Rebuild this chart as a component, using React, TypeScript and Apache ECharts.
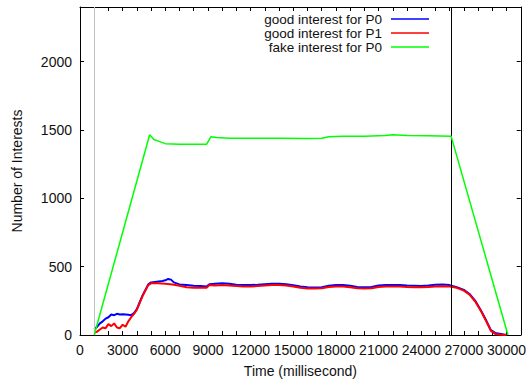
import React, { useEffect, useRef } from "react";
import * as echarts from "echarts";

// ---- data ----
const blueTimes = [1000, 1200, 1400, 1600, 1800, 2000, 2200, 2400, 2600, 2800, 3000, 3200, 3400, 3600, 3800, 4000, 4200, 4400, 4600, 4800, 5000, 5400, 5800, 6000, 6200, 6400, 6600, 7000, 7500, 8000, 8500, 8900, 9100, 9500, 10000, 10500, 11000, 11500, 12000, 12500, 13000, 13500, 14000, 14500, 15000, 15500, 16000, 16500, 17000, 17500, 18000, 18500, 19000, 19500, 20000, 20500, 21000, 21500, 22000, 22500, 23000, 23500, 24000, 24500, 25000, 25500, 26000, 26500, 27000, 27400, 27800, 28200, 28600, 28900, 29200, 29600, 30000];
const blueValues = [40, 60, 85, 100, 120, 130, 150, 145, 155, 150, 152, 150, 148, 145, 160, 190, 240, 290, 330, 370, 385, 390, 395, 400, 410, 405, 385, 370, 365, 360, 358, 355, 372, 375, 378, 375, 368, 365, 365, 368, 372, 375, 375, 372, 365, 355, 350, 348, 350, 360, 365, 365, 360, 352, 350, 352, 362, 365, 365, 365, 362, 360, 358, 362, 368, 370, 365, 350, 330, 300, 250, 180, 100, 35, 15, 8, 0];

const redTimes = [1000, 1200, 1400, 1600, 1800, 2000, 2200, 2400, 2600, 2800, 3000, 3200, 3400, 3600, 3800, 4000, 4200, 4400, 4600, 4800, 5000, 5500, 6000, 6500, 7000, 7500, 8000, 8500, 8900, 9100, 9500, 10000, 10500, 11000, 11500, 12000, 12500, 13000, 13500, 14000, 14500, 15000, 15500, 16000, 16500, 17000, 17500, 18000, 18500, 19000, 19500, 20000, 20500, 21000, 21500, 22000, 22500, 23000, 23500, 24000, 24500, 25000, 25500, 26000, 26500, 27000, 27400, 27800, 28200, 28600, 28900, 29200, 29600, 30000];
const redValues = [15, 25, 40, 55, 50, 80, 65, 85, 55, 50, 75, 60, 100, 130, 155, 185, 235, 285, 325, 365, 378, 378, 375, 370, 360, 350, 345, 345, 345, 365, 362, 365, 363, 358, 355, 355, 358, 362, 365, 365, 362, 355, 345, 340, 340, 342, 352, 355, 355, 350, 342, 340, 342, 352, 355, 355, 355, 352, 350, 350, 352, 355, 357, 355, 345, 325, 295, 245, 175, 95, 30, 8, 2, 0];

const greenTimes = [1000, 4900, 5200, 5600, 6000, 7000, 8000, 8900, 9200, 9600, 10500, 12000, 14000, 16000, 17000, 17500, 18500, 20000, 21500, 22000, 23000, 24500, 26100, 30100];
const greenValues = [0, 1465, 1430, 1415, 1400, 1395, 1395, 1395, 1450, 1445, 1440, 1440, 1440, 1438, 1440, 1450, 1455, 1455, 1460, 1465, 1460, 1458, 1455, 0];

const seriesNames = ["good interest for P0", "good interest for P1", "fake interest for P0"];
const seriesColors = ["#0000ff", "#ff0000", "#00ff00"];
const markerTimes = [1000, 26100];
const markerColors = ["#c0c0c0", "#000000"];

const X_MIN = 0;
const X_MAX = 31000;
const X_STEP = 1000;
const X_LABEL_STEP = 3000;
const Y_MIN = 0;
const Y_MAX = 2400;
const Y_STEP = 500;

const zip = (xs: number[], ys: number[]) => xs.map((x, i) => [x, ys[i]]);

export default function App() {
  const ref = useRef<HTMLDivElement>(null);
  useEffect(() => {
    if (!ref.current) return;
    const chart = echarts.init(ref.current, null, { renderer: "svg" });
    const font = "Liberation Sans";
    const textColor = "#111";
    const axisCommon = {
      axisLine: { show: true, onZero: false, lineStyle: { color: "#000", width: 1 } },
      axisTick: { show: true, inside: true, length: 4, lineStyle: { color: "#000", width: 1 } },
      splitLine: { show: false },
    };
    const dataSets = [zip(blueTimes, blueValues), zip(redTimes, redValues), zip(greenTimes, greenValues)];
    chart.setOption({
      animation: false,
      textStyle: { fontFamily: font },
      grid: { left: 80, right: 6, top: 7, bottom: 48, containLabel: false },
      legend: {
        data: seriesNames,
        orient: "vertical",
        align: "right",
        right: 100,
        top: 12,
        padding: 0,
        itemGap: 0,
        icon: "rect",
        itemWidth: 38,
        itemHeight: 1.5,
        textStyle: {
          fontFamily: font,
          fontSize: 13.5,
          lineHeight: 13.5,
          color: textColor,
          width: 126,
          align: "right",
          padding: [0, 4, 0, 0],
        },
        selectedMode: false,
      },
      xAxis: [
        {
          type: "value",
          min: X_MIN,
          max: X_MAX,
          interval: X_STEP,
          position: "bottom",
          name: "Time (millisecond)",
          nameLocation: "middle",
          nameGap: 29,
          nameTextStyle: { fontFamily: font, fontSize: 14, color: textColor },
          ...axisCommon,
          axisLabel: {
            margin: 8,
            fontFamily: font,
            fontSize: 14,
            color: textColor,
            formatter: (v: number) => (v % X_LABEL_STEP === 0 && v <= 30000 ? String(v) : ""),
          },
        },
        {
          type: "value",
          min: X_MIN,
          max: X_MAX,
          interval: X_STEP,
          position: "top",
          ...axisCommon,
          axisLabel: { show: false },
        },
      ],
      yAxis: [
        {
          type: "value",
          min: Y_MIN,
          max: Y_MAX,
          interval: Y_STEP,
          position: "left",
          name: "Number of Interests",
          nameLocation: "middle",
          nameGap: 56,
          nameTextStyle: { fontFamily: font, fontSize: 14, color: textColor },
          ...axisCommon,
          axisLabel: {
            margin: 8,
            fontFamily: font,
            fontSize: 14,
            color: textColor,
            formatter: (v: number) => (v % Y_STEP === 0 ? String(v) : ""),
          },
        },
        {
          type: "value",
          min: Y_MIN,
          max: Y_MAX,
          interval: Y_STEP,
          position: "right",
          ...axisCommon,
          axisLabel: { show: false },
        },
      ],
      series: seriesNames.map((n, i) => ({
        name: n,
        type: "line",
        data: dataSets[i],
        showSymbol: false,
        symbol: "none",
        smooth: false,
        color: seriesColors[i],
        lineStyle: { color: seriesColors[i], width: i === 2 ? 1.5 : 2 },
        z: 3 + i,
        ...(i === 0
          ? {
              markLine: {
                silent: true,
                symbol: "none",
                label: { show: false },
                data: markerTimes.map((t, k) => ({
                  xAxis: t,
                  lineStyle: { color: markerColors[k], width: 1, type: "solid" },
                })),
              },
            }
          : {}),
      })),
    });
    return () => chart.dispose();
  }, []);
  return (
    <div
      ref={ref}
      style={{ position: "fixed", left: 0, top: 0, width: 529, height: 383, background: "#fff" }}
    />
  );
}
